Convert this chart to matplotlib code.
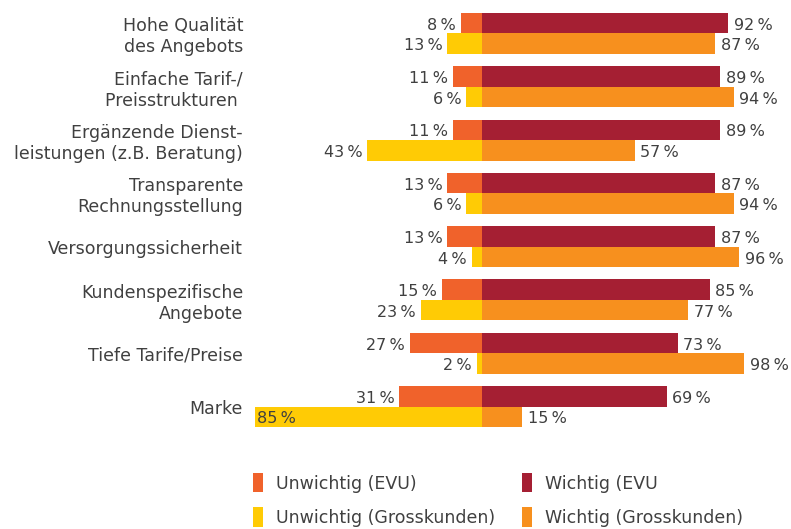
import matplotlib.pyplot as plt
import numpy as np

plt.rcParams['font.family'] = ['DejaVu Sans']

categories = [
    "Hohe Qualität\ndes Angebots",
    "Einfache Tarif-/\nPreisstrukturen ",
    "Ergänzende Dienst-\nleistungen (z.B. Beratung)",
    "Transparente\nRechnungsstellung",
    "Versorgungssicherheit",
    "Kundenspezifische\nAngebote",
    "Tiefe Tarife/Preise",
    "Marke",
]
unwichtig_evu = [8, 11, 11, 13, 13, 15, 27, 31]
wichtig_evu = [92, 89, 89, 87, 87, 85, 73, 69]
unwichtig_gk = [13, 6, 43, 6, 4, 23, 2, 85]
wichtig_gk = [87, 94, 57, 94, 96, 77, 98, 15]

c_unw_evu = '#f0622b'
c_w_evu = '#a51f33'
c_unw_gk = '#ffcb05'
c_w_gk = '#f7901e'
txt = '#404040'
fs_cat = 12.5
fs_pct = 11.5

fig = plt.figure(figsize=(7.91, 5.29), dpi=100)
W, H = 791, 529
ax = fig.add_axes([250 / W, (H - 440) / H, 530 / W, 440 / H])

y = np.arange(len(categories))
h = 0.385

b1 = ax.barh(y - h / 2, [-v for v in unwichtig_evu], height=h, color=c_unw_evu)
b2 = ax.barh(y - h / 2, wichtig_evu, height=h, color=c_w_evu)
b3 = ax.barh(y + h / 2, [-v for v in unwichtig_gk], height=h, color=c_unw_gk)
b4 = ax.barh(y + h / 2, wichtig_gk, height=h, color=c_w_gk)

def pct(v):
    return f"{v}\u2009%"

dy = -1.5
for i in range(len(categories)):
    ax.annotate(pct(unwichtig_evu[i]), (-unwichtig_evu[i], i - h / 2), xytext=(-3.5, dy),
                textcoords='offset points', ha='right', va='center', fontsize=fs_pct, color=txt)
    ax.annotate(pct(wichtig_evu[i]), (wichtig_evu[i], i - h / 2), xytext=(4, dy),
                textcoords='offset points', ha='left', va='center', fontsize=fs_pct, color=txt)
    if unwichtig_gk[i] > 50:
        # big bar: label sits inside, at the left end
        ax.annotate(pct(unwichtig_gk[i]), (-unwichtig_gk[i], i + h / 2), xytext=(1.5, dy),
                    textcoords='offset points', ha='left', va='center', fontsize=fs_pct, color=txt)
    else:
        ax.annotate(pct(unwichtig_gk[i]), (-unwichtig_gk[i], i + h / 2), xytext=(-3.5, dy),
                    textcoords='offset points', ha='right', va='center', fontsize=fs_pct, color=txt)
    ax.annotate(pct(wichtig_gk[i]), (wichtig_gk[i], i + h / 2), xytext=(4, dy),
                textcoords='offset points', ha='left', va='center', fontsize=fs_pct, color=txt)

ax.set_xlim(-86.8, 111.3)
ax.set_ylim(7.627, -0.628)
ax.set_yticks(y)
ax.set_yticklabels(categories, fontsize=fs_cat, color=txt)
ax.tick_params(axis='y', length=0, pad=5)
ax.set_xticks([])
for s in ax.spines.values():
    s.set_visible(False)

fig.legend([b1, b3, b2, b4],
           ["Unwichtig (EVU)", "Unwichtig (Grosskunden)", "Wichtig (EVU", "Wichtig (Grosskunden)"],
           ncol=2, loc='upper left', bbox_to_anchor=(253 / W, 1 - 473 / H),
           frameon=False, fontsize=fs_cat, labelcolor=txt, handlelength=0.6, handleheight=1.35,
           handletextpad=0.75, columnspacing=1.5, labelspacing=0.85, borderpad=0, borderaxespad=0)

fig.savefig('out.png', dpi=100)
